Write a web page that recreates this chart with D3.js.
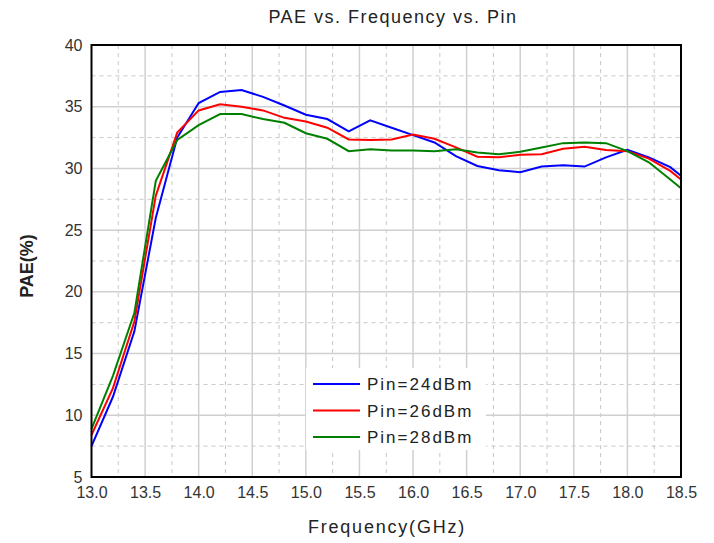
<!DOCTYPE html>
<html><head><meta charset="utf-8">
<script src="https://cdn.jsdelivr.net/npm/d3@7/dist/d3.min.js"></script>
<style>body{margin:0;background:#fff}svg{display:block}text{font-family:"Liberation Sans",Arial,sans-serif}</style>
</head><body>
<svg id="c" width="714" height="543"></svg>
<script>
const freq = [13.0,13.2,13.4,13.6,13.8,14.0,14.2,14.4,14.6,14.8,15.0,15.2,15.4,15.6,15.8,16.0,16.2,16.4,16.6,16.8,17.0,17.2,17.4,17.6,17.8,18.0,18.2,18.4,18.5];
const pin24 = [7.5,11.5,16.8,26.0,32.5,35.3,36.2,36.35,35.8,35.1,34.35,34.0,33.0,33.9,33.3,32.7,32.1,31.0,30.2,29.85,29.7,30.15,30.25,30.15,30.9,31.5,30.9,30.1,29.4];
const pin26 = [8.4,12.2,17.6,27.8,32.9,34.7,35.2,35.0,34.7,34.1,33.8,33.3,32.35,32.3,32.35,32.75,32.4,31.7,30.95,30.9,31.1,31.15,31.6,31.75,31.5,31.4,30.8,29.8,29.1];
const pin28 = [8.9,13.2,18.3,29.0,32.3,33.5,34.4,34.4,34.0,33.7,32.85,32.4,31.4,31.55,31.45,31.45,31.4,31.55,31.3,31.15,31.35,31.7,32.05,32.1,32.05,31.4,30.5,29.1,28.4];
const seriesNames = ["Pin=24dBm","Pin=26dBm","Pin=28dBm"];
const seriesColors = ["#0000ff","#ff0000","#008000"];
const xTicks = [13.0,13.5,14.0,14.5,15.0,15.5,16.0,16.5,17.0,17.5,18.0,18.5];
const yTicks = [5,10,15,20,25,30,35,40];

const svg = d3.select("#c");
const L=91.5, R=681, T=45, B=477;
const x = d3.scaleLinear().domain([13,18.5]).range([L,R]);
const y = d3.scaleLinear().domain([5,40]).range([B,T]);

// grid
const g = svg.append("g");
const minorX = d3.range(13.25,18.5,0.5);
const minorY = d3.range(7.5,40,5);
g.selectAll(".mx").data(minorX).join("line").attr("x1",d=>x(d)).attr("x2",d=>x(d)).attr("y1",T).attr("y2",B)
 .attr("stroke","#c8c8c8").attr("stroke-dasharray","4,4");
g.selectAll(".my").data(minorY).join("line").attr("y1",d=>y(d)).attr("y2",d=>y(d)).attr("x1",L).attr("x2",R)
 .attr("stroke","#c8c8c8").attr("stroke-dasharray","4,4");
g.selectAll(".gx").data(xTicks.slice(1,-1)).join("line").attr("x1",d=>x(d)).attr("x2",d=>x(d)).attr("y1",T).attr("y2",B)
 .attr("stroke","#d0d0d0").attr("stroke-width",1.5);
g.selectAll(".gy").data(yTicks.slice(1,-1)).join("line").attr("y1",d=>y(d)).attr("y2",d=>y(d)).attr("x1",L).attr("x2",R)
 .attr("stroke","#d0d0d0").attr("stroke-width",1.5);

// series
const data = [pin24,pin26,pin28];
const line = d3.line().x((d,i)=>x(freq[i])).y(d=>y(d));
data.forEach((s,k)=>{
  svg.append("path").datum(s).attr("d",line).attr("fill","none").attr("stroke",seriesColors[k]).attr("stroke-width",2);
});

// frame
svg.append("rect").attr("x",L).attr("y",T).attr("width",R-L).attr("height",B-T).attr("fill","none").attr("stroke","#000").attr("stroke-width",2);

// axes labels via d3 axes
const xa = svg.append("g").attr("transform",`translate(0,${B})`)
  .call(d3.axisBottom(x).tickValues(xTicks).tickFormat(d3.format(".1f")).tickSize(0).tickPadding(10));
xa.select(".domain").remove();
xa.selectAll("text").attr("font-size",16).attr("fill","#333").attr("font-family","Liberation Sans, Arial, sans-serif");
const ya = svg.append("g").attr("transform",`translate(${L},0)`)
  .call(d3.axisLeft(y).tickValues(yTicks).tickSize(0).tickPadding(9));
ya.select(".domain").remove();
ya.selectAll("text").attr("font-size",16).attr("fill","#333").attr("font-family","Liberation Sans, Arial, sans-serif");

// titles
svg.append("text").attr("x",393).attr("y",23).attr("text-anchor","middle").attr("font-size",18)
  .attr("letter-spacing",1.5).attr("fill","#222").text("PAE vs. Frequency vs. Pin");
svg.append("text").attr("x",387).attr("y",533).attr("text-anchor","middle").attr("font-size",18)
  .attr("letter-spacing",1.8).attr("fill","#222").text("Frequency(GHz)");
svg.append("text").attr("transform","translate(33,266) rotate(-90)").attr("text-anchor","middle").attr("font-size",18)
  .attr("font-weight","bold").attr("fill","#222").text("PAE(%)");

// legend
const lg = svg.append("g");
lg.append("rect").attr("x",306).attr("y",368).attr("width",180).attr("height",82).attr("fill","#fff");
seriesNames.forEach((n,k)=>{
  const yy = 384 + k*26.5;
  lg.append("line").attr("x1",313).attr("x2",360).attr("y1",yy).attr("y2",yy).attr("stroke",seriesColors[k]).attr("stroke-width",2);
  lg.append("text").attr("x",367).attr("y",yy+6).attr("font-size",17).attr("letter-spacing",2).attr("fill","#222").text(n);
});
</script>
</body></html>
